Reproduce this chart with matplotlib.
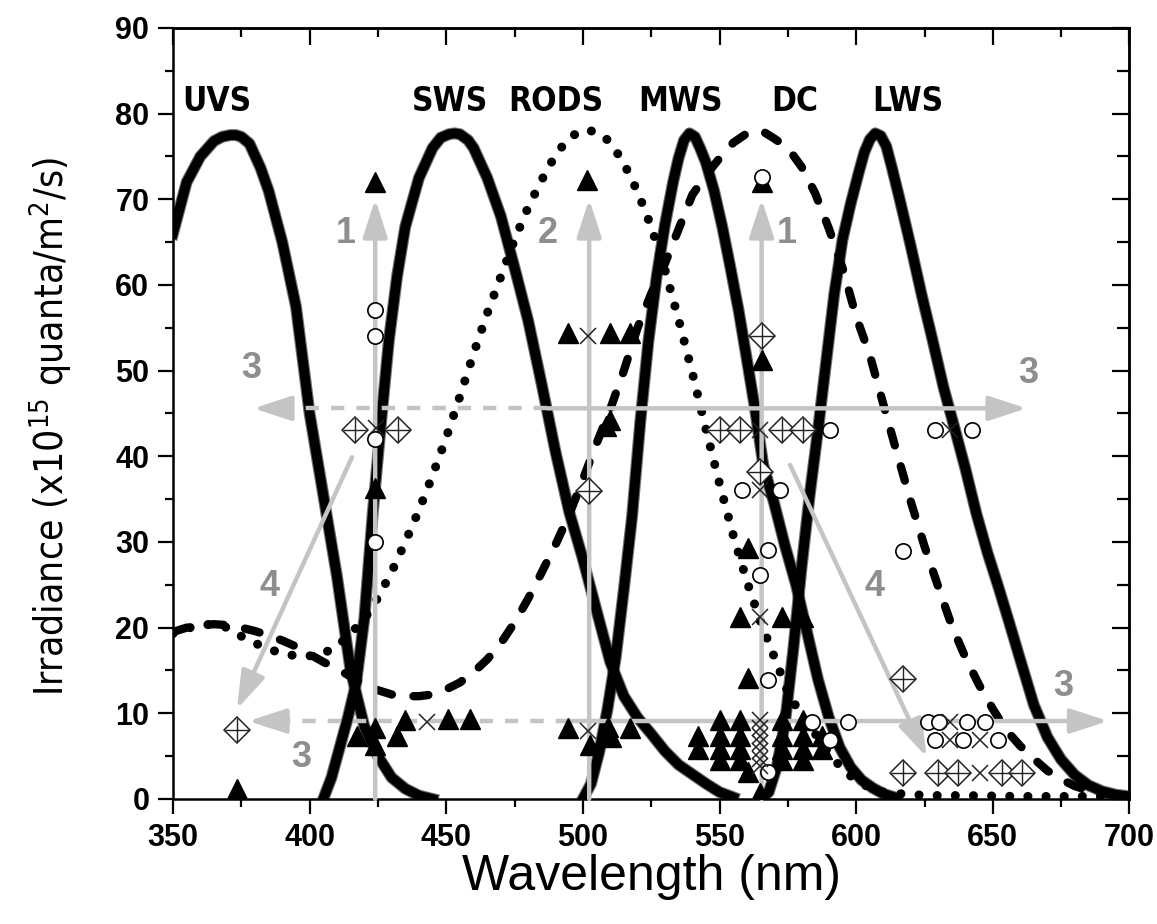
import matplotlib
matplotlib.use('Agg')
import matplotlib.pyplot as plt
from matplotlib import font_manager as fm
from matplotlib.ticker import MultipleLocator

# ---- visual pigment curves (nm, irradiance) ----
uvs_nm = [350, 355, 360, 365, 368, 371, 373, 375, 378, 382, 385, 390, 395, 400, 405, 410, 415, 420, 425, 430,
          435, 440, 445]
uvs_val = [66, 72, 75, 76.8, 77.3, 77.5, 77.5, 77.3, 76.5, 73.7, 71, 65, 57.5, 45, 35.5, 26, 15, 8.5, 5, 2.5,
           1.2, 0.4, 0]

sws_nm = [405, 408, 411, 414, 417, 420, 423, 426, 429, 432, 435, 440, 445, 448, 451, 453, 455, 458, 460, 465,
          470, 475, 480, 485, 490, 495, 500, 505, 510, 515, 520, 525, 530, 535, 540, 545, 550, 555]
sws_val = [0, 2.5, 6, 9.5, 13.5, 21, 33, 43.5, 53.5, 61, 66.8, 72.5, 76, 77.2, 77.6, 77.7, 77.6, 76.9, 76, 72.5,
           68, 62, 55.8, 48.3, 40.5, 33.5, 28, 22, 16, 12, 9.5, 7.6, 5.6, 4, 2.9, 1.8, 0.8, 0.2]

mws_nm = [500, 503, 506, 509, 512, 515, 518, 521, 524, 527, 530, 533, 535, 537, 539, 541, 543, 545, 548, 551,
          554, 557, 560, 563, 566, 570, 574, 578, 582, 586, 590, 594, 598, 602, 606, 610, 615]
mws_val = [0, 1.8, 5.5, 10.5, 16.5, 24.5, 33, 44, 53.5, 61, 67, 72, 74.8, 76.9, 77.7, 77.3, 75.9, 74.3, 71, 66.8,
           62, 57, 51.3, 45.5, 39, 34.5, 29.5, 25, 19.5, 14, 9.5, 6, 3.7, 2.2, 1.3, 0.6, 0.1]

lws_nm = [565, 568, 571, 574, 577, 580, 583, 586, 589, 592, 595, 598, 601, 603, 605, 607, 609, 611, 613, 616,
          620, 624, 628, 632, 636, 640, 644, 648, 652, 656, 660, 665, 670, 675, 680, 685, 690, 695, 700]
lws_val = [0, 0.8, 3.8, 9, 17.5, 27, 35.5, 43, 51, 59, 65.3, 69.5, 73.2, 75.5, 77, 77.7, 77.4, 76.2, 73.8, 69.9,
           64.5, 58.8, 53.5, 48, 43.3, 38.5, 33.3, 28.8, 24.8, 20.6, 16.3, 11, 7.2, 4.6, 2.8, 1.6, 0.9, 0.5, 0.3]

rods_nm = [350, 355, 360, 365, 370, 375, 380, 385, 390, 395, 400, 405, 410, 415, 420, 425, 430, 435, 440, 445,
           450, 455, 460, 465, 470, 475, 480, 485, 490, 495, 500, 505, 510, 515, 520, 525, 530, 535, 540, 545,
           550, 555, 560, 565, 570, 575, 580, 585, 590, 595, 600, 605, 610, 620, 630, 640, 650, 660, 670, 680,
           690, 700]
rods_val = [19.3, 19.9, 20.3, 20.4, 20, 19, 18.2, 17.5, 17, 16.7, 16.7, 17, 17.8, 19.3, 21, 23.5, 26.5, 30, 33.7, 37.8,
            42.2, 47, 52, 56.7, 61, 65.3, 69.1, 72.3, 75.2, 77.2, 78.1, 77.9, 76.7, 74.2, 70.9, 66.8, 61.8, 56, 49.8, 43.2,
            36.8, 30.8, 25.4, 20.7, 16.6, 12.5, 9.7, 7.6, 5.5, 3.4, 2.2, 1.3, 0.8, 0.5, 0.4, 0.4, 0.35, 0.3, 0.3, 0.3,
            0.3, 0.3]

dc_nm = [350, 355, 360, 365, 370, 375, 380, 385, 390, 395, 400, 405, 410, 415, 420, 425, 430, 435, 440, 445,
         450, 455, 460, 465, 470, 475, 480, 485, 490, 495, 500, 505, 510, 515, 520, 525, 530, 535, 540, 545,
         550, 555, 560, 563, 566, 570, 575, 580, 585, 590, 595, 600, 605, 610, 615, 620, 625, 630, 635, 640,
         645, 650, 655, 660, 665, 670, 675, 680, 685, 690, 695, 700]
dc_val = [19.5, 20, 20.3, 20.4, 20.3, 20, 19.6, 19.1, 18.5, 17.8, 16.9, 16, 15.2, 14.3, 13.4, 12.7, 12.2, 12, 12, 12.2,
          12.8, 13.6, 14.8, 16.3, 18.2, 20.6, 23.4, 26.5, 29.7, 33.2, 37.3, 41.5, 45.5, 50, 55, 59, 62.5, 66.5, 70.5, 72.8,
          74.8, 76.6, 77.7, 78, 77.9, 77.1, 76, 73.8, 70.7, 66.6, 62, 56.3, 51.8, 46, 40.3, 34.7, 29.5, 24.8, 20.2, 16.5,
          13.3, 10.5, 8, 6.2, 4.7, 3.3, 2.3, 1.5, 1, 0.7, 0.45, 0.3]

# ---- data points ----
tri_nm = [424, 424, 424, 424, 417.2, 431.8, 435, 450.7, 458.7, 373.3,
          501.5, 494.6, 509.9, 517.2, 508.5, 510, 494.6, 509.3, 517.2, 502.6, 510.2,
          565.4, 565.4, 560.5, 557.5, 572.7, 580.6, 560.5,
          550.1, 557.5, 572.7, 580.6,
          542.2, 550.1, 557.5, 572.7, 580.6, 587.5,
          542.2, 550.1, 557.5, 572.7, 580.6, 587.5,
          550.1, 557.5, 572.7, 580.6,
          560.5, 564.8]
tri_val = [72, 36.3, 8.3, 6.3, 7.3, 7.3, 9.2, 9.3, 9.3, 1.2,
           72.2, 54.4, 54.4, 54.4, 43.5, 44.2, 8.3, 8.4, 8.3, 6.3, 7.2,
           72, 51.2, 29.3, 21.3, 21.3, 21.3, 14.1,
           9.2, 9.2, 9.2, 9.2,
           7.4, 7.4, 7.4, 7.4, 7.4, 7.4,
           5.8, 5.8, 5.8, 5.8, 5.8, 5.8,
           4.6, 4.6, 4.6, 4.6,
           3.2, 0.7]

circ_nm = [424, 424, 424, 424, 565.4, 590.4, 558.1, 572.1, 567.8, 564.8, 567.8, 583.7, 597.1, 590.4, 567.8,
           628.8, 642.2, 617.2, 626.4, 630.4, 640.4, 647.1, 628.8, 639.2, 652]
circ_val = [57.1, 54, 42, 30, 72.6, 43.1, 36.1, 36.1, 29.1, 26.1, 13.9, 9, 9, 6.9, 3.2,
            43.1, 43.1, 29, 9, 9, 9, 9, 6.9, 6.9, 6.9]

cross_nm = [424.2, 442.8, 502, 502, 564.8, 564.8, 564.8,
            564.8, 564.8, 564.8, 564.8, 564.8, 564.8, 564.8,
            634.3, 634.3, 634.3, 645.3, 645.3]
cross_val = [43.3, 9, 54, 7.9, 43.1, 36.1, 21.3,
             9.2, 8.3, 7.4, 6.5, 5.6, 4.7, 3.9,
             43.1, 9, 6.9, 6.9, 3]

dia_nm = [416.6, 432.4, 373.3, 502.3, 565.4, 550.1, 557.5, 572.7, 580.6, 564.8,
          617.2, 617.2, 630, 637.3, 653.2, 660.5]
dia_val = [43.1, 43.1, 8.1, 36, 54, 43.1, 43.1, 43.1, 43.1, 38.2,
           14, 3, 3, 3, 3, 3]

# ---- grey arrows and labels ----
vert_x = [424, 502.3, 565.4]
vert_tip = 70
hor_y = [45.6, 9.1]
hor_left_tip = [379.4, 377.6]
hor_split = [487, 495]
hor_right_tip = [662.4, 692.2]
diag_from = [(415.5, 39.9), (575.8, 39)]
diag_to = [(373.4, 10.5), (625.8, 4.9)]
num_text = ['1', '2', '1', '3', '3', '3', '3', '4', '4']
num_pos = [(413.3, 66), (487.3, 66), (574.5, 66), (378.8, 50.3), (663, 49.7),
           (675.8, 13.1), (397.1, 4.9), (385.5, 24.8), (606.9, 24.8)]

curve_names = ['UVS', 'SWS', 'RODS', 'MWS', 'DC', 'LWS']
curve_name_x = [366.1, 451.3, 490.2, 535.6, 577.6, 618.9]
curve_name_y = 81.4

names = set(f.name for f in fm.fontManager.ttflist)
if 'Liberation Sans Narrow' in names:
    narrow, stretch = 'Liberation Sans Narrow', 'normal'
else:
    narrow, stretch = 'DejaVu Sans', 'condensed'

plt.rcParams['font.family'] = ['Liberation Sans', 'DejaVu Sans']
plt.rcParams['mathtext.fontset'] = 'custom'
plt.rcParams['mathtext.rm'] = narrow

fig = plt.figure(figsize=(11.57, 9.24), dpi=100)
ax = fig.add_axes([0.1495, 0.1353, 0.8267, 0.8344])

for nm, val in [(uvs_nm, uvs_val), (sws_nm, sws_val), (mws_nm, mws_val), (lws_nm, lws_val)]:
    ax.plot(nm, val, color='0.3', lw=8.6, alpha=0.8, zorder=2)
    ax.plot(nm, val, color='k', lw=7, zorder=2.1)
ax.plot(rods_nm, rods_val, color='k', lw=6.5, linestyle=(0, (0.01, 2.0)),
        dash_capstyle='round', zorder=2.2)
ax.plot(dc_nm, dc_val, color='k', lw=6, linestyle=(0, (1.8, 2.6)),
        dash_capstyle='round', zorder=2.2)

gray = '#c4c4c4'
astyle = '-|>,head_length=23,head_width=7.5'


def arrow(x0, y0, x1, y1):
    ax.annotate('', xy=(x1, y1), xytext=(x0, y0),
                arrowprops=dict(arrowstyle=astyle, mutation_scale=1, color=gray,
                                lw=3.2, shrinkA=0, shrinkB=0), zorder=3)


for x in vert_x:
    arrow(x, 0, x, vert_tip)
for y, lt, sp, rt in zip(hor_y, hor_left_tip, hor_split, hor_right_tip):
    ax.plot([sp, lt + 12], [y, y], color=gray, lw=3.2, linestyle=(0, (3, 2.7)), zorder=3)
    arrow(lt + 13, y, lt, y)
    arrow(sp, y, rt, y)
for (x0, y0), (x1, y1) in zip(diag_from, diag_to):
    arrow(x0, y0, x1, y1)

for t, (x, y) in zip(num_text, num_pos):
    ax.text(x, y, t, ha='center', va='center', fontsize=26, fontweight='bold',
            color='#8e8e8e', zorder=4)

for t, x in zip(curve_names, curve_name_x):
    ax.text(x, curve_name_y, t, ha='center', va='center', fontsize=24, fontweight='bold',
            family=narrow, stretch=stretch, zorder=4)

ax.plot(tri_nm, tri_val, '^', color='k', ms=14, ls='none', zorder=5)
ax.plot(circ_nm, circ_val, 'o', mfc='white', mec='k', ms=11, mew=1.2, ls='none', zorder=5)
ax.plot(cross_nm, cross_val, 'x', color='#222222', ms=12, mew=1.1, ls='none', zorder=5)
ax.plot(dia_nm, dia_val, 'D', mfc='white', mec='#222222', ms=13, mew=1.1, ls='none', zorder=5)
ax.plot(dia_nm, dia_val, '+', color='#222222', ms=17, mew=1.0, ls='none', zorder=5.1)

ax.set_xlim(350, 700)
ax.set_ylim(0, 90)
ax.xaxis.set_major_locator(MultipleLocator(50))
ax.xaxis.set_minor_locator(MultipleLocator(25))
ax.yaxis.set_major_locator(MultipleLocator(10))
ax.yaxis.set_minor_locator(MultipleLocator(5))
ax.tick_params(which='major', direction='out', length=11, width=1.6, labelsize=22, pad=6)
ax.tick_params(which='minor', direction='out', length=6, width=1.6)
for lab in ax.get_xticklabels() + ax.get_yticklabels():
    lab.set_fontweight('bold')
for s in ax.spines.values():
    s.set_linewidth(1.8)

top = ax.secondary_xaxis('top')
top.xaxis.set_major_locator(MultipleLocator(50))
top.xaxis.set_minor_locator(MultipleLocator(25))
top.tick_params(which='major', direction='in', length=12, width=1.6, labeltop=False)
top.tick_params(which='minor', direction='in', length=6.5, width=1.6)
top.spines['top'].set_linewidth(1.8)

right = ax.secondary_yaxis('right')
right.yaxis.set_major_locator(MultipleLocator(10))
right.yaxis.set_minor_locator(MultipleLocator(5))
right.tick_params(which='major', direction='in', length=12, width=1.6, labelright=False)
right.tick_params(which='minor', direction='in', length=9, width=1.6)
right.spines['right'].set_linewidth(1.8)

ax.set_xlabel('Wavelength (nm)', fontsize=36)
ax.xaxis.set_label_coords(0.5, -0.118)
ax.xaxis.label.set_verticalalignment('baseline')
ax.set_ylabel(r'Irradiance (x10$\mathregular{^{15}}$ quanta/m$\mathregular{^{2}}$/s)',
              fontsize=28, family=narrow, stretch=stretch)
ax.yaxis.set_label_coords(-0.103, 0.483)

fig.savefig('out.png', dpi=100)
